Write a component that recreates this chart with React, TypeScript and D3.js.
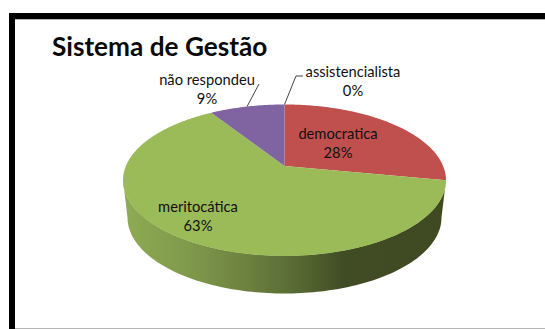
import React from "react";
import * as d3 from "d3";

// Sistema de Gestão: shares of each management style, drawn clockwise from 12 o'clock
const categories = ["democratica", "meritocática", "não respondeu", "assistencialista"];
const shares = [28, 63, 9, 0];
const sliceColors = ["#c0504d", "#9bbb59", "#8064a2", "#4bacc6"];
const chartTitle = "Sistema de Gestão";

const W = 545;
const H = 329;
const FONT = "Lato, 'Open Sans', sans-serif";

// Tilted disc: a circle seen in perspective
const cx = 284.5;
const cy = 166;
const radius = 158.6;
const persp = -0.188;
const vScale = 73.07;

const project = (angle: number, r = 1) => {
  const u = r * Math.sin(angle);
  const v = -r * Math.cos(angle);
  const w = 1 + persp * v;
  return [cx + (radius * u) / w, cy + (vScale * v) / w] as [number, number];
};

const line = d3.line<[number, number]>().x((d) => d[0]).y((d) => d[1]);
const pieLayout = d3.pie<number>().sort(null);
const slices = pieLayout(shares);

const slicePath = (a0: number, a1: number) => {
  const n = Math.max(2, Math.ceil((a1 - a0) * 60));
  const rim = d3.range(n + 1).map((i) => project(a0 + ((a1 - a0) * i) / n));
  return line([[cx, cy], ...rim, [cx, cy]]) + "Z";
};

// Wall under the front of the disc: rim ellipse down to a slightly narrower base ellipse
const rimCy = 180;
const rimRx = 161.5;
const rimRy = 75.7;
const baseCy = 217.5;
const baseRx = 157;
const baseRy = 76;
const steps = d3.range(0, 121).map((i) => (Math.PI * i) / 120);
const wallPath =
  line([
    ...steps.map((t) => [cx - baseRx * Math.cos(t), baseCy + baseRy * Math.sin(t)] as [number, number]),
    ...steps
      .slice()
      .reverse()
      .map((t) => [cx - rimRx * Math.cos(t), rimCy + rimRy * Math.sin(t)] as [number, number]),
  ]) + "Z";

const wallStops: [number, string][] = [
  [0, "#8fab55"],
  [0.2, "#7f9a4b"],
  [0.4, "#6a7f3e"],
  [0.55, "#566832"],
  [0.68, "#414c24"],
  [1, "#3f4a22"],
];

const midAngle = (i: number) => (slices[i].startAngle + slices[i].endAngle) / 2;

const labelStyle = { fontFamily: FONT, fontSize: 14.7, fill: "#111", textAnchor: "middle" as const };

const Label = ({ i, x, y1, y2 }: { i: number; x: number; y1: number; y2: number }) => (
  <g style={labelStyle}>
    <text x={x} y={y1}>{categories[i]}</text>
    <text x={x} y={y2}>{shares[i]}%</text>
  </g>
);

export default function App() {
  const noAnswerTip = project(midAngle(2));
  const zeroTip = project(midAngle(3));
  return (
    <svg width={W} height={H} style={{ position: "absolute", left: 0, top: 0, background: "#fff" }}>
      <defs>
        <linearGradient id="wall" gradientUnits="userSpaceOnUse" x1={cx - rimRx} x2={cx + rimRx} y1={0} y2={0}>
          {wallStops.map(([o, c]) => (
            <stop key={o} offset={o} stopColor={c} />
          ))}
        </linearGradient>
      </defs>

      {/* Frame */}
      <rect x={9} y={13} width={W - 9} height={6} fill="#000" />
      <rect x={15} y={19} width={W - 15} height={1} fill="#b5b5b5" />
      <rect x={9} y={13} width={6} height={H - 13} fill="#000" />
      <rect x={15} y={328} width={W - 15} height={1} fill="#b5b5b5" />

      <text x={52} y={56} fontFamily={FONT} fontWeight={700} fontSize={26.2} fill="#0a0a0a">
        {chartTitle}
      </text>

      <path d={wallPath} fill="url(#wall)" />
      {slices.map((s, i) =>
        s.endAngle > s.startAngle ? (
          <path key={categories[i]} d={slicePath(s.startAngle, s.endAngle)} fill={sliceColors[i]} />
        ) : null
      )}

      {/* Leader lines */}
      <path d={line([noAnswerTip, [noAnswerTip[0] + 12, 84]]) ?? ""} fill="none" stroke="#444" strokeWidth={1} />
      <path
        d={line([zeroTip, [296, 76], [303, 76]]) ?? ""}
        fill="none"
        stroke="#444"
        strokeWidth={1}
      />

      <Label i={0} x={338} y1={139} y2={158} />
      <Label i={1} x={198} y1={212} y2={231} />
      <Label i={2} x={207} y1={85} y2={104} />
      <Label i={3} x={353} y1={77} y2={96} />
    </svg>
  );
}
